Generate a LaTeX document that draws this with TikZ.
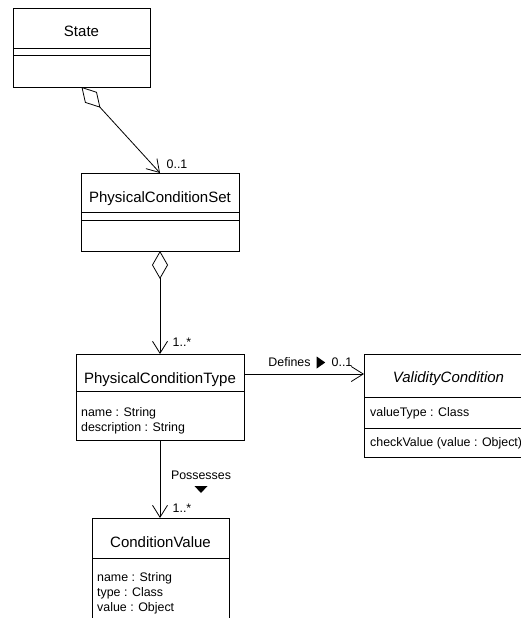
\documentclass[tikz,border=0pt]{standalone}
\usepackage{fontspec}
\setmainfont{Liberation Sans}
\usetikzlibrary{arrows.meta,calc}
\begin{document}
\begin{tikzpicture}[x=1pt,y=-1pt,
  umlbox/.style={draw, line width=0.8pt, inner sep=0pt, outer sep=0pt},
  cname/.style={font=\fontsize{15}{18}\selectfont, inner sep=0pt, text height=11pt, text depth=3pt},
  attr/.style={font=\fontsize{12.4}{15}\selectfont, inner sep=0pt, anchor=west, text height=9pt, text depth=2.6pt},
  lbl/.style={font=\fontsize{12.4}{15}\selectfont, inner sep=0pt, text height=9pt, text depth=2.6pt},
  sepline/.style={line width=0.8pt},
  assoc/.style={line width=0.8pt, -{Straight Barb[length=12pt,width=15pt]}},
  aggr/.style={line width=0.8pt, {Diamond[open,length=28pt,width=16pt]}-{Straight Barb[length=12pt,width=15pt]}},
]
\useasboundingbox (0,0) rectangle (521,618);

% class boxes
\node[umlbox, minimum width=137pt, minimum height=79pt] (state) at (81.5,47.5) {};
\node[umlbox, minimum width=158pt, minimum height=78pt] (pcs) at (160,212) {};
\node[umlbox, minimum width=168pt, minimum height=86pt] (pct) at (160,397) {};
\node[umlbox, minimum width=169pt, minimum height=103pt] (vc) at (448.5,405.5) {};
\node[umlbox, minimum width=137pt, minimum height=112pt] (cv) at (160.5,574) {};

% compartment separators
\draw[sepline] (state.west |- 0,48) -- (state.east |- 0,48);
\draw[sepline] (state.west |- 0,55) -- (state.east |- 0,55);
\draw[sepline] (pcs.west |- 0,212) -- (pcs.east |- 0,212);
\draw[sepline] (pcs.west |- 0,220) -- (pcs.east |- 0,220);
\draw[sepline] (pct.west |- 0,391) -- (pct.east |- 0,391);
\draw[sepline] (vc.west |- 0,397) -- (vc.east |- 0,397);
\draw[sepline] (vc.west |- 0,428) -- (vc.east |- 0,428);
\draw[sepline] (cv.west |- 0,558) -- (cv.east |- 0,558);

% class names
\node[cname] (stateName) at (81.5,33) {State};
\node[cname] (pcsName) at (160,198) {PhysicalConditionSet};
\node[cname] (pctName) at (160,379) {PhysicalConditionType};
\node[cname] (vcName) at (448.5,378) {\itshape ValidityCondition};
\node[cname] (cvName) at (160.5,543) {ConditionValue};

% attributes and operations
\node[attr] (pctA1) at (81,413) {name : String};
\node[attr] (pctA2) at (81,428) {description : String};
\node[attr] (vcA1) at (370,413) {valueType : Class};
\node[attr] (vcO1) at (370,443) {checkValue (value : Object)};
\node[attr] (cvA1) at (97,578) {name : String};
\node[attr] (cvA2) at (97,593) {type : Class};
\node[attr] (cvA3) at (97,608) {value : Object};

% associations
\coordinate (defY) at (0,374);
\draw[aggr] (state.south) -- (pcs.north);
\draw[aggr] (pcs.south) -- (pct.north);
\draw[assoc] (pct.east |- defY) -- (vc.west |- defY);
\draw[assoc] (pct.south) -- (pct.south |- cv.north);

% association labels and multiplicities
\node[lbl] (m1) at (177,165) {0..1};
\node[lbl] (m2) at (182,343) {1..*};
\node[lbl] (defines) at (289.5,363) {Defines};
\node[lbl] (m3) at (342,363) {0..1};
\node[lbl] (poss) at (201,476) {Possesses};
\node[lbl] (m4) at (182,509) {1..*};

% reading-direction triangles
\fill ($(defines.east)+(6,-6.5)$) -- ++(8.5,6) -- ++(-8.5,6) -- cycle;
\fill ($(poss.center)+(-6.5,10)$) -- ++(13,0) -- ++(-6.5,7) -- cycle;
\end{tikzpicture}
\end{document}
